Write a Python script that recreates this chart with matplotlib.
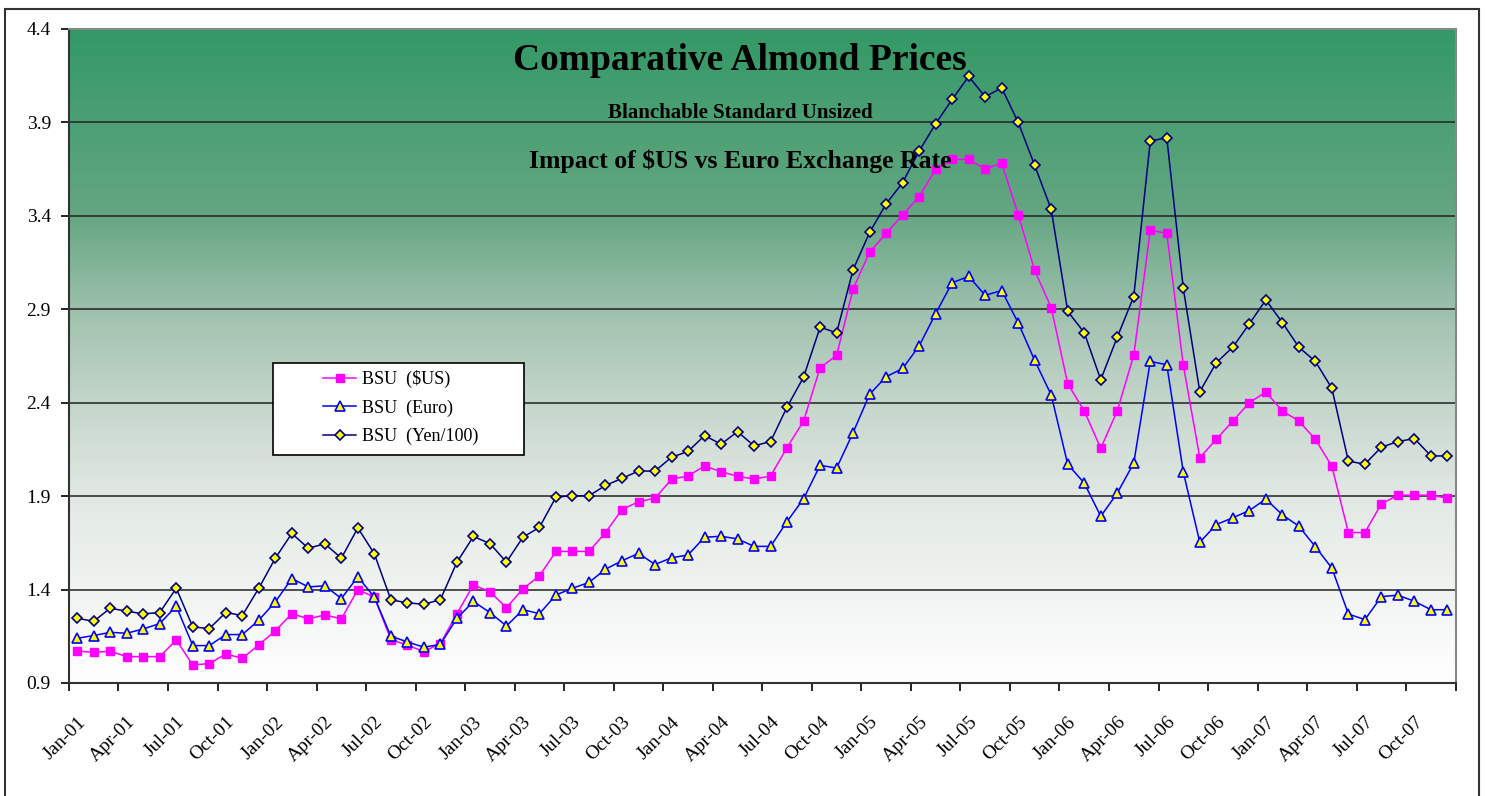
import numpy as np
import pandas as pd
import matplotlib
matplotlib.use("Agg")
import matplotlib.pyplot as plt
from matplotlib.colors import LinearSegmentedColormap
from matplotlib.patches import Rectangle

# monthly categories Jan-01 .. Dec-07
months = pd.date_range("2001-01-01", "2007-12-01", freq="MS").strftime("%b-%y").tolist()

bsu_usd = [1.071, 1.064, 1.070, 1.041, 1.041, 1.041, 1.130, 0.996, 1.004, 1.055, 1.032, 1.104,
           1.179, 1.271, 1.243, 1.264, 1.243, 1.400, 1.359, 1.132, 1.102, 1.068, 1.111, 1.271,
           1.425, 1.388, 1.303, 1.404, 1.473, 1.604, 1.604, 1.604, 1.705, 1.828, 1.870, 1.889,
           1.990, 2.008, 2.061, 2.031, 2.006, 1.991, 2.008, 2.160, 2.302, 2.587, 2.653, 3.009,
           3.206, 3.306, 3.405, 3.503, 3.649, 3.702, 3.702, 3.651, 3.683, 3.407, 3.108, 2.909,
           2.501, 2.356, 2.156, 2.356, 2.654, 3.322, 3.307, 2.601, 2.106, 2.204, 2.302, 2.400,
           2.457, 2.356, 2.302, 2.204, 2.060, 1.705, 1.705, 1.859, 1.905, 1.905, 1.905, 1.889]

bsu_euro = [1.139, 1.154, 1.171, 1.166, 1.189, 1.218, 1.311, 1.100, 1.100, 1.159, 1.159, 1.236,
            1.334, 1.459, 1.414, 1.420, 1.352, 1.468, 1.359, 1.150, 1.120, 1.091, 1.107, 1.246,
            1.336, 1.277, 1.205, 1.292, 1.271, 1.371, 1.407, 1.438, 1.509, 1.554, 1.594, 1.534,
            1.570, 1.585, 1.680, 1.685, 1.671, 1.631, 1.631, 1.764, 1.886, 2.065, 2.050, 2.240,
            2.445, 2.539, 2.583, 2.704, 2.877, 3.042, 3.076, 2.975, 3.000, 2.827, 2.626, 2.441,
            2.070, 1.970, 1.792, 1.916, 2.077, 2.621, 2.603, 2.029, 1.653, 1.748, 1.784, 1.823,
            1.884, 1.800, 1.739, 1.629, 1.515, 1.269, 1.239, 1.362, 1.370, 1.337, 1.292, 1.292]

bsu_yen = [1.246, 1.230, 1.300, 1.284, 1.270, 1.277, 1.407, 1.200, 1.191, 1.277, 1.261, 1.407,
           1.568, 1.700, 1.621, 1.645, 1.568, 1.730, 1.591, 1.345, 1.329, 1.321, 1.346, 1.546,
           1.684, 1.646, 1.547, 1.680, 1.733, 1.895, 1.902, 1.902, 1.957, 1.995, 2.034, 2.034,
           2.108, 2.139, 2.224, 2.178, 2.245, 2.169, 2.192, 2.377, 2.537, 2.804, 2.774, 3.112,
           3.311, 3.464, 3.578, 3.747, 3.893, 4.023, 4.146, 4.037, 4.085, 3.900, 3.670, 3.434,
           2.889, 2.775, 2.523, 2.751, 2.968, 3.800, 3.818, 3.012, 2.459, 2.614, 2.697, 2.822,
           2.950, 2.829, 2.697, 2.621, 2.477, 2.087, 2.071, 2.162, 2.192, 2.208, 2.115, 2.115]

yticks = [0.9, 1.4, 1.9, 2.4, 2.9, 3.4, 3.9, 4.4]

plt.rcParams['font.family'] = ['Liberation Serif', 'DejaVu Serif']

fig = plt.figure(figsize=(14.86, 7.96), dpi=100)
ax = fig.add_axes([0.0464, 0.142, 0.9332, 0.8216])

x = np.arange(len(months))

# green -> white background gradient
bg = LinearSegmentedColormap.from_list("bg", [
    (0.0, (51/255, 153/255, 102/255)),
    (0.28, (100/255, 166/255, 130/255)),
    (0.45, (165/255, 196/255, 178/255)),
    (0.60, (203/255, 218/255, 208/255)),
    (0.72, (226/255, 233/255, 228/255)),
    (1.0, (1, 1, 1)),
])
grad = np.linspace(0, 1, 256).reshape(-1, 1)
ax.imshow(grad, cmap=bg, extent=[0, 1, 0, 1], transform=ax.transAxes,
          aspect='auto', zorder=0, interpolation='bilinear')

for yv in yticks[1:-1]:
    ax.axhline(yv, color='#222222', lw=1.1, zorder=1)

ax.plot(x, bsu_usd, '-s', color='#FF00FF', lw=1.1, ms=6, mec='#FF00FF',
        label='BSU  ($US)', zorder=3)
ax.plot(x, bsu_euro, '-^', color='#0000FF', lw=1.1, ms=7, mfc='#FFFF00',
        mec='#0000FF', mew=1.2, label='BSU  (Euro)', zorder=3)
ax.plot(x, bsu_yen, '-D', color='#000080', lw=1.1, ms=5.5, mfc='#FFFF00',
        mec='#000080', mew=1.2, label='BSU  (Yen/100)', zorder=3)

ax.set_xlim(-0.5, len(months) - 0.5)
ax.set_ylim(0.9, 4.4)
ax.set_yticks(yticks)
ax.set_yticklabels(['%.1f' % v for v in yticks])

ax.set_xticks(np.arange(-0.5, len(months), 3))
ax.set_xticklabels([])
ax.set_xticks(x[::3], minor=True)
ax.set_xticklabels(months[::3], minor=True, rotation=45, ha='right',
                   rotation_mode='anchor', fontsize=14)
ax.tick_params(axis='x', which='minor', length=0, pad=22)
ax.tick_params(axis='x', which='major', length=6, width=1.2, direction='out')
ax.tick_params(axis='y', length=6, width=1.2, direction='out', labelsize=14, pad=7)

for s in ['left', 'bottom']:
    ax.spines[s].set_color('#333333')
    ax.spines[s].set_linewidth(1.5)
for s in ['top', 'right']:
    ax.spines[s].set_color('#888888')
    ax.spines[s].set_linewidth(1.5)

# legend box
ax.add_patch(Rectangle((0.1471, 0.3486), 0.181, 0.1407, transform=ax.transAxes,
                       facecolor='white', edgecolor='black', lw=1.2, zorder=5))
leg = ax.legend(loc='upper left', bbox_to_anchor=(0.1832, 0.4786), frameon=False,
                fontsize=13, borderpad=0, borderaxespad=0, handlelength=1.85,
                handletextpad=0.3, labelspacing=0.62)
leg.set_zorder(6)

fig.text(0.498, 0.912, 'Comparative Almond Prices', ha='center', va='baseline',
         fontsize=27, fontweight='bold')
fig.text(0.498, 0.8518, 'Blanchable Standard Unsized', ha='center', va='baseline',
         fontsize=15, fontweight='bold')
fig.text(0.498, 0.789, 'Impact of $US vs Euro Exchange Rate', ha='center', va='baseline',
         fontsize=18.5, fontweight='bold')

fig.patches.append(Rectangle((0.0034, -0.02), 0.9919, 1.0087, transform=fig.transFigure,
                             fill=False, lw=1.5, edgecolor='#333333'))

fig.savefig('out.png', dpi=100)
